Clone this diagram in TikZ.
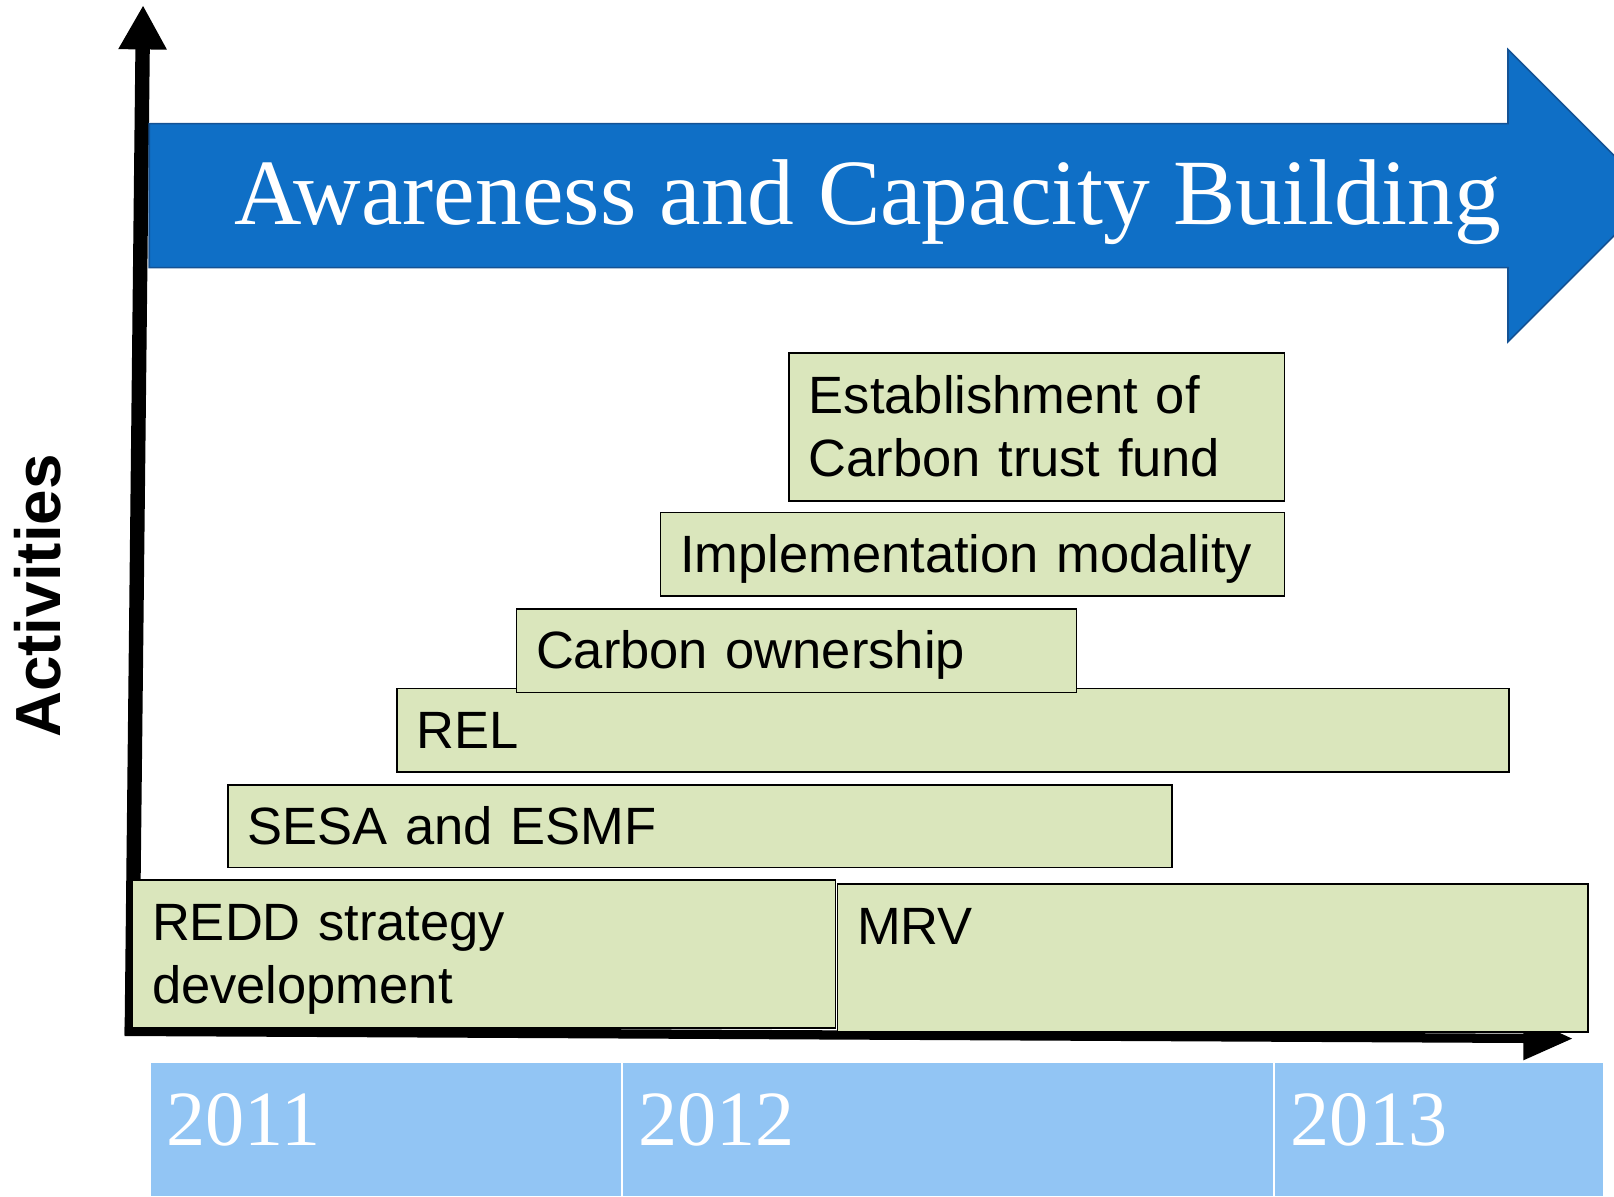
\documentclass[tikz,border=0pt]{standalone}
\usepackage{fontspec}
\setmainfont{Liberation Serif}
\setsansfont{Liberation Sans}
\usetikzlibrary{arrows.meta}
\definecolor{titleblue}{RGB}{15,111,198}
\definecolor{titleedge}{RGB}{20,82,148}
\definecolor{yearblue}{RGB}{146,197,244}
\definecolor{actgreen}{RGB}{218,230,188}
\begin{document}
\begin{tikzpicture}[x=1pt,y=-1pt,
  actbox/.style={draw=black,line width=1.5pt,fill=actgreen,anchor=north west,
    inner xsep=19pt,inner ysep=0pt,align=left,
    font=\sffamily\fontsize{51}{61.5}\selectfont,text height=46pt,text depth=11pt},
  twoline/.style={text depth=72.5pt},
  yearcell/.style={draw=white,line width=2pt,fill=yearblue,anchor=north west,
    inner xsep=16pt,inner ysep=0pt,align=left,text=white,
    font=\fontsize{76}{80}\selectfont,text height=52pt,text depth=21pt,
    minimum height=131pt}
]
\useasboundingbox (0,0) rectangle (1568,1162);
\clip (0,0) rectangle (1568,1162);

% axes
\coordinate (origin) at (128,1006);
\coordinate (ytop) at (139,5);
\coordinate (xstart) at (121,1002);
\coordinate (xend) at (1528,1009);
\draw[line width=14pt,-{Triangle[length=43pt,width=44pt]}] (origin) -- (ytop);
\draw[line width=9pt,-{Triangle[length=48pt,width=40pt]}] (xstart) -- (xend);

% title arrow
\filldraw[fill=titleblue,draw=titleedge,line width=1.5pt]
  (145,120) -- (1465,120) -- (1465,48) -- (1607,190) -- (1465,332)
  -- (1465,260) -- (145,260) -- cycle;
\node[anchor=base west,inner sep=0pt,text=white,font=\fontsize{90.8}{100}\selectfont]
  (title) at (228,218) {Awareness and Capacity Building};

\node[rotate=90,font=\sffamily\bfseries\fontsize{62}{70}\selectfont]
  (actlabel) at (37,579) {Activities};

% activities
\node[actbox,twoline,minimum width=481pt,text width=443pt,minimum height=144pt]
  (trust) at (766,342) {Establishment of\\Carbon trust fund};
\node[actbox,minimum width=606pt,text width=568pt,minimum height=81pt]
  (modality) at (641,497) {Implementation modality};
\node[actbox,minimum width=1080pt,text width=1042pt,minimum height=81pt]
  (rel) at (385,668) {REL};
\node[actbox,minimum width=544pt,text width=506pt,minimum height=81pt]
  (ownership) at (501,591) {Carbon ownership};
\node[actbox,minimum width=917pt,text width=879pt,minimum height=80pt]
  (sesa) at (221,762) {SESA and ESMF};
\node[actbox,twoline,minimum width=729pt,text width=691pt,minimum height=144pt]
  (mrv) at (813,858) {MRV};
\node[actbox,twoline,minimum width=683pt,text width=645pt,minimum height=144pt]
  (redd) at (128,854) {REDD strategy\\development};

% years
\node[yearcell,minimum width=458pt,text width=426pt] (y2011) at (145,1031) {2011};
\node[yearcell,minimum width=634pt,text width=602pt] (y2012) at (603,1031) {2012};
\node[yearcell,minimum width=320pt,text width=288pt] (y2013) at (1237,1031) {2013};
\end{tikzpicture}
\end{document}
